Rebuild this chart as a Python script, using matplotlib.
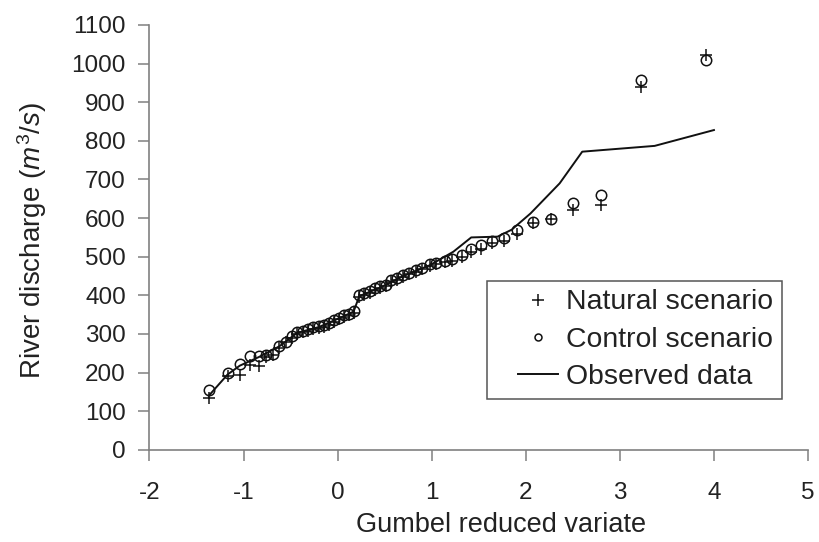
import matplotlib
matplotlib.use("Agg")
import matplotlib.pyplot as plt
from matplotlib.legend_handler import HandlerLine2D

plt.rcParams['font.family'] = ['Liberation Sans', 'DejaVu Sans']
plt.rcParams['mathtext.fontset'] = 'custom'
plt.rcParams['mathtext.rm'] = 'Liberation Sans'
plt.rcParams['mathtext.it'] = 'Liberation Sans:italic'

# Gumbel reduced variate (plotting positions)
gumbel_x = [-1.37, -1.17, -1.04, -0.93, -0.84, -0.76, -0.69, -0.62, -0.55, -0.49,
            -0.43, -0.37, -0.31, -0.26, -0.20, -0.15, -0.09, -0.04, 0.01, 0.07,
            0.12, 0.17, 0.23, 0.28, 0.34, 0.40, 0.45, 0.51, 0.57, 0.63,
            0.70, 0.76, 0.83, 0.90, 0.98, 1.05, 1.14, 1.22, 1.32, 1.42,
            1.52, 1.64, 1.77, 1.91, 2.08, 2.27, 2.50, 2.80, 3.22, 3.92]

natural = [135, 190, 195, 220, 218, 240, 245, 265, 278, 290,
           300, 305, 308, 312, 315, 318, 322, 330, 338, 345,
           350, 355, 395, 400, 405, 415, 418, 423, 435, 440,
           448, 455, 460, 468, 476, 482, 486, 490, 500, 512,
           520, 535, 540, 560, 588, 597, 621, 634, 940, 1022]

control = [155, 200, 222, 243, 243, 245, 248, 270, 280, 295,
           305, 308, 312, 318, 320, 322, 328, 335, 342, 348,
           352, 360, 400, 405, 410, 420, 425, 428, 440, 445,
           452, 458, 465, 472, 480, 485, 490, 495, 505, 520,
           530, 540, 548, 569, 591, 597, 640, 660, 957, 1009]

obs_x = [-1.37, -1.17, -1.04, -0.84, -0.62, -0.43, -0.20, 0.01, 0.17, 0.23,
         0.45, 0.70, 0.98, 1.23, 1.42, 1.70, 1.85, 2.05, 2.36, 2.60, 3.37, 4.00]
observed = [140, 195, 218, 240, 268, 303, 318, 340, 358, 398,
            420, 450, 478, 513, 550, 552, 570, 612, 690, 772, 787, 828]

x_ticks = [-2, -1, 0, 1, 2, 3, 4, 5]
y_ticks = list(range(0, 1101, 100))

text_color = '#222222'
axis_color = '#808080'


class RightShiftHandler(HandlerLine2D):
    """Draw the legend handle in the right part of the handle box."""
    def create_artists(self, legend, orig_handle, xdescent, ydescent,
                       width, height, fontsize, trans):
        shift = width * 0.36
        return super().create_artists(legend, orig_handle, xdescent - shift,
                                      ydescent, width - shift, height,
                                      fontsize, trans)


fig = plt.figure(figsize=(8.19, 5.42), dpi=100)
ax = fig.add_axes([0.1825, 0.170, 0.8041, 0.7839])

ax.plot(obs_x, observed, color='#111111', lw=1.4, label='Observed data', zorder=2)
ax.plot(gumbel_x, natural, linestyle='none', marker='+', ms=9, mew=1.1,
        color='#111111', label='Natural scenario', zorder=3)
ax.plot(gumbel_x, control, linestyle='none', marker='o', ms=7.5, mew=1.1,
        mfc='none', mec='#111111', label='Control scenario', zorder=3)

ax.set_xlim(-2, 5)
ax.set_ylim(0, 1100)
ax.set_xticks(x_ticks)
ax.set_yticks(y_ticks)
ax.set_xticklabels([str(v) for v in x_ticks])
ax.set_yticklabels([str(v) for v in y_ticks])

for s in ['top', 'right']:
    ax.spines[s].set_visible(False)
for s in ['left', 'bottom']:
    ax.spines[s].set_color(axis_color)
    ax.spines[s].set_linewidth(1.2)

ax.tick_params(axis='both', colors=axis_color, labelcolor=text_color,
               labelsize=17.5, length=8, width=1.1, direction='out')
ax.tick_params(axis='x', pad=15)
ax.tick_params(axis='y', pad=9)

ax.set_xlabel('Gumbel reduced variate', fontsize=19.5, color=text_color)
ax.xaxis.set_label_coords(0.534, -0.178)
ax.get_xaxis().label.set_verticalalignment('center')
ax.set_ylabel(r'River discharge ($m^3/s$)', fontsize=20, color=text_color)
ax.yaxis.set_label_coords(-0.178, 0.492)
ax.get_yaxis().label.set_verticalalignment('center')

h, l = ax.get_legend_handles_labels()
order = [1, 2, 0]
handler = RightShiftHandler()
leg = ax.legend([h[i] for i in order], [l[i] for i in order],
                loc='upper left', bbox_to_anchor=(0.5125, 0.3976),
                fontsize=20.4, frameon=True, fancybox=False, framealpha=1,
                edgecolor='#555555', handlelength=2.2, handletextpad=0.3,
                borderpad=0.3, labelspacing=0.4, borderaxespad=0,
                handler_map={hh: handler for hh in h})
leg.get_frame().set_linewidth(1.1)
for t in leg.get_texts():
    t.set_color(text_color)
leg.legend_handles[1].set_markersize(5)

fig.savefig('out.png', dpi=100)
